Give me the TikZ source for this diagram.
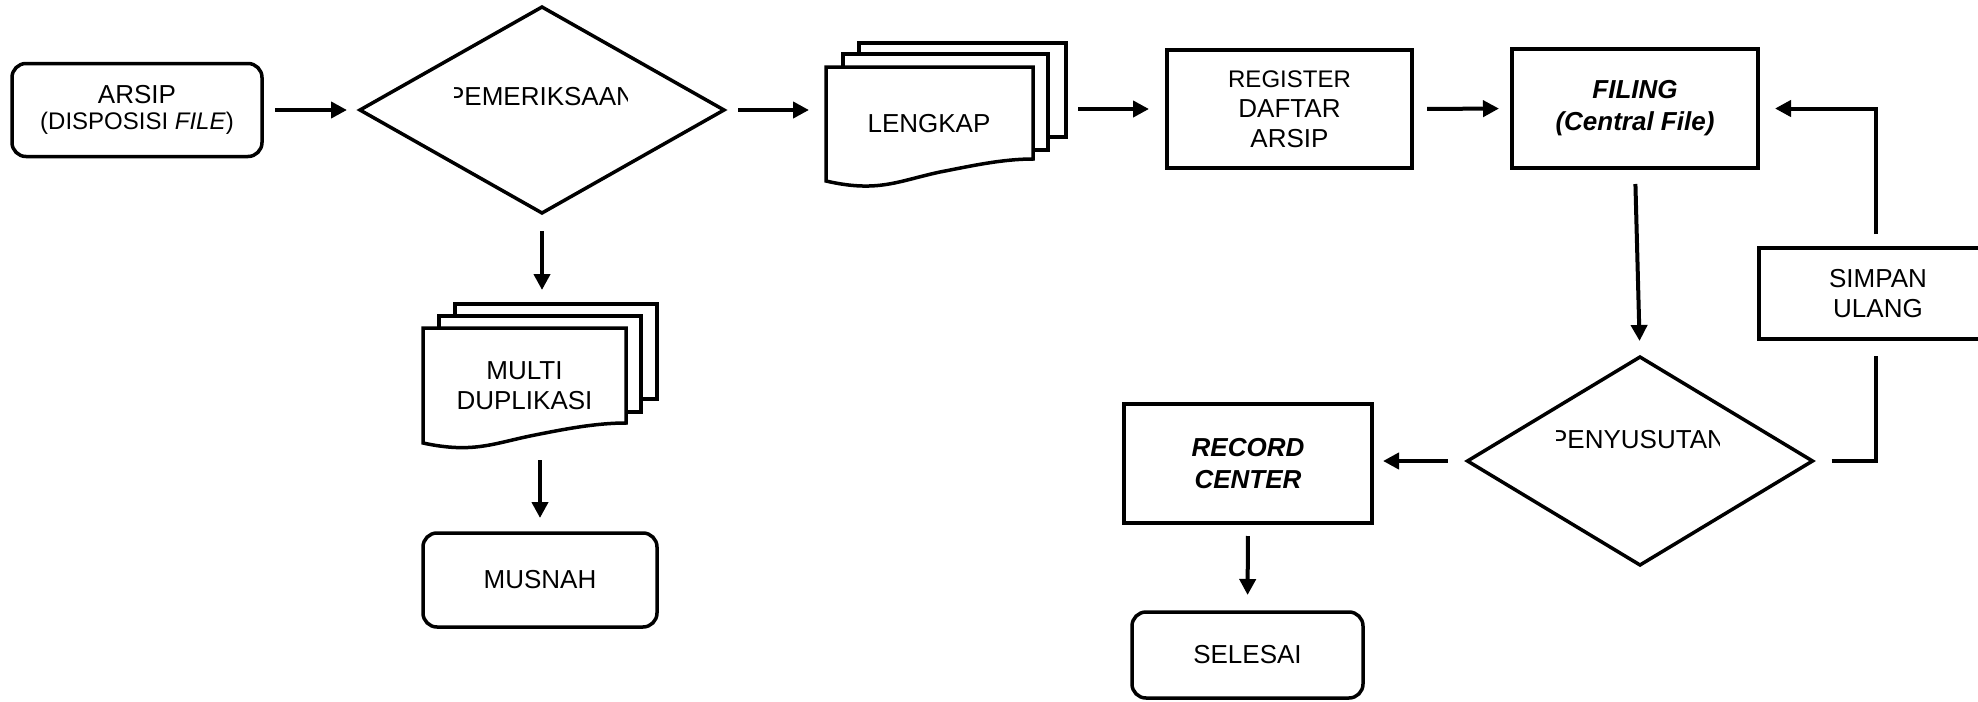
\documentclass[tikz,border=0pt]{standalone}
\usepackage{fontspec}
\setmainfont{Liberation Sans}
\usetikzlibrary{arrows.meta,shapes.geometric}

\tikzset{
  txt/.style={font=\fontsize{13}{15}\selectfont},
  box/.style={draw, rectangle, line width=1.75pt, inner sep=0pt, outer sep=0pt, align=center, txt},
  roundbox/.style={box, rounded corners=7pt},
  page/.style={draw, rectangle, line width=1.75pt, fill=white, inner sep=0pt, outer sep=0pt},
  pageline/.style={draw, line width=1.75pt, fill=white, line join=miter},
  decision/.style={draw, diamond, line width=1.75pt, inner sep=0pt, outer sep=0pt},
  lbl/.style={inner sep=0pt, outer sep=0pt, align=center, txt},
  arr/.style={line width=2pt, -{Triangle[length=8pt,width=8pt]}},
  link/.style={line width=2pt},
  emph/.style={font=\fontsize{13}{16}\selectfont\bfseries\itshape},
}

\begin{document}
\begin{tikzpicture}[x=0.5pt, y=-0.5pt]
\useasboundingbox (0,0) rectangle (1978,702);
\clip (0,0) rectangle (1978,702);

% --- start ---
\node[roundbox, minimum width=125pt, minimum height=46.5pt] (arsip) at (137,110)
  {ARSIP\\[-2pt]{\fontsize{12}{14}\selectfont (DISPOSISI \textit{FILE})}};

% --- first decision ---
\node[decision, minimum width=182pt, minimum height=103pt] (cek) at (542,110) {};
\begin{scope}
  \clip (454,60) rectangle (627,130);
  \node[lbl] (cek-label) at (541,97) {PEMERIKSAAN};
\end{scope}

% --- document stack: LENGKAP ---
\node[page, minimum width=103.5pt, minimum height=47pt] (lengkap-back) at (962.5,90) {};
\node[page, minimum width=102.5pt, minimum height=48pt] (lengkap-mid) at (945.5,102) {};
\path[pageline] (826,67) -- (826,181)
  .. controls (878,193) and (898,181) .. (940,172)
  .. controls (971,166) and (1002,159) .. (1033,159) -- (1033,67) -- cycle;
\node[lbl, minimum width=103.5pt, minimum height=57pt] (lengkap) at (929.5,124) {};
\node[lbl] (lengkap-label) at (929,124) {LENGKAP};

% --- register ---
\node[box, minimum width=122.5pt, minimum height=59pt] (register) at (1289.5,109)
  {\fontsize{12}{13.6}\selectfont REGISTER\\DAFTAR\\ARSIP};

% --- filing ---
\node[box, minimum width=123pt, minimum height=59.5pt, emph] (filing) at (1635,108.5)
  {FILING\\(Central File)};

% --- second decision ---
\node[decision, minimum width=172.5pt, minimum height=104pt] (susut) at (1640,461) {};
\begin{scope}
  \clip (1556,400) rectangle (1719,480);
  \node[lbl] (susut-label) at (1638,440) {PENYUSUTAN};
\end{scope}

% --- record center and end ---
\node[box, minimum width=124pt, minimum height=59.5pt, emph] (record) at (1248,463.5)
  {RECORD\\CENTER};
\node[roundbox, minimum width=115.5pt, minimum height=43pt] (selesai) at (1247.5,655) {SELESAI};

% --- re-store ---
\node[box, minimum width=119pt, minimum height=45.5pt] (simpan) at (1878,293.5) {SIMPAN\\ULANG};

% --- document stack: MULTI DUPLIKASI ---
\node[page, minimum width=101pt, minimum height=47.5pt] (multi-back) at (556,351.5) {};
\node[page, minimum width=101pt, minimum height=48pt] (multi-mid) at (540,364) {};
\path[pageline] (423,328) -- (423,443)
  .. controls (474,454) and (494,443) .. (535,435)
  .. controls (565,429) and (596,423) .. (626,423) -- (626,328) -- cycle;
\node[lbl, minimum width=101.5pt, minimum height=57.5pt] (multi) at (524.5,385.5) {MULTI\\DUPLIKASI};

% --- destroyed ---
\node[roundbox, minimum width=117pt, minimum height=47pt] (musnah) at (540,580) {MUSNAH};

% --- connectors ---
\draw[arr, shorten <=6.5pt, shorten >=6.5pt] (arsip.east) -- (arsip.east -| cek.west);
\draw[arr, shorten <=7pt, shorten >=8.5pt] (cek.east) -- (cek.east -| lengkap.west);
\draw[arr, shorten <=6pt, shorten >=9pt] (register.west -| lengkap-back.east) -- (register.west);
\draw[arr, shorten <=7.5pt, shorten >=6.5pt] (register.east) -- (filing.west);
\draw[arr, shorten <=8pt, shorten >=8pt] (filing.south) -- (susut.north);
\draw[arr, shorten <=10pt, shorten >=5.5pt] (susut.west) -- (susut.west -| record.east);
\draw[arr, shorten <=6.5pt, shorten >=8.5pt] (record.south) -- (selesai.north);
\draw[link, shorten <=9.5pt, shorten >=8.5pt] (susut.east) -| ([xshift=-1pt]simpan.south);
\draw[arr, shorten <=7pt, shorten >=8.5pt] ([xshift=-1pt]simpan.north) |- (filing.east);
\draw[arr, shorten <=9pt, shorten >=7pt] (cek.south) -- (cek.south |- multi-back.north);
\draw[arr, shorten <=8.5pt, shorten >=7.5pt] (musnah.north |- multi.south) -- (musnah.north);
\end{tikzpicture}
\end{document}
